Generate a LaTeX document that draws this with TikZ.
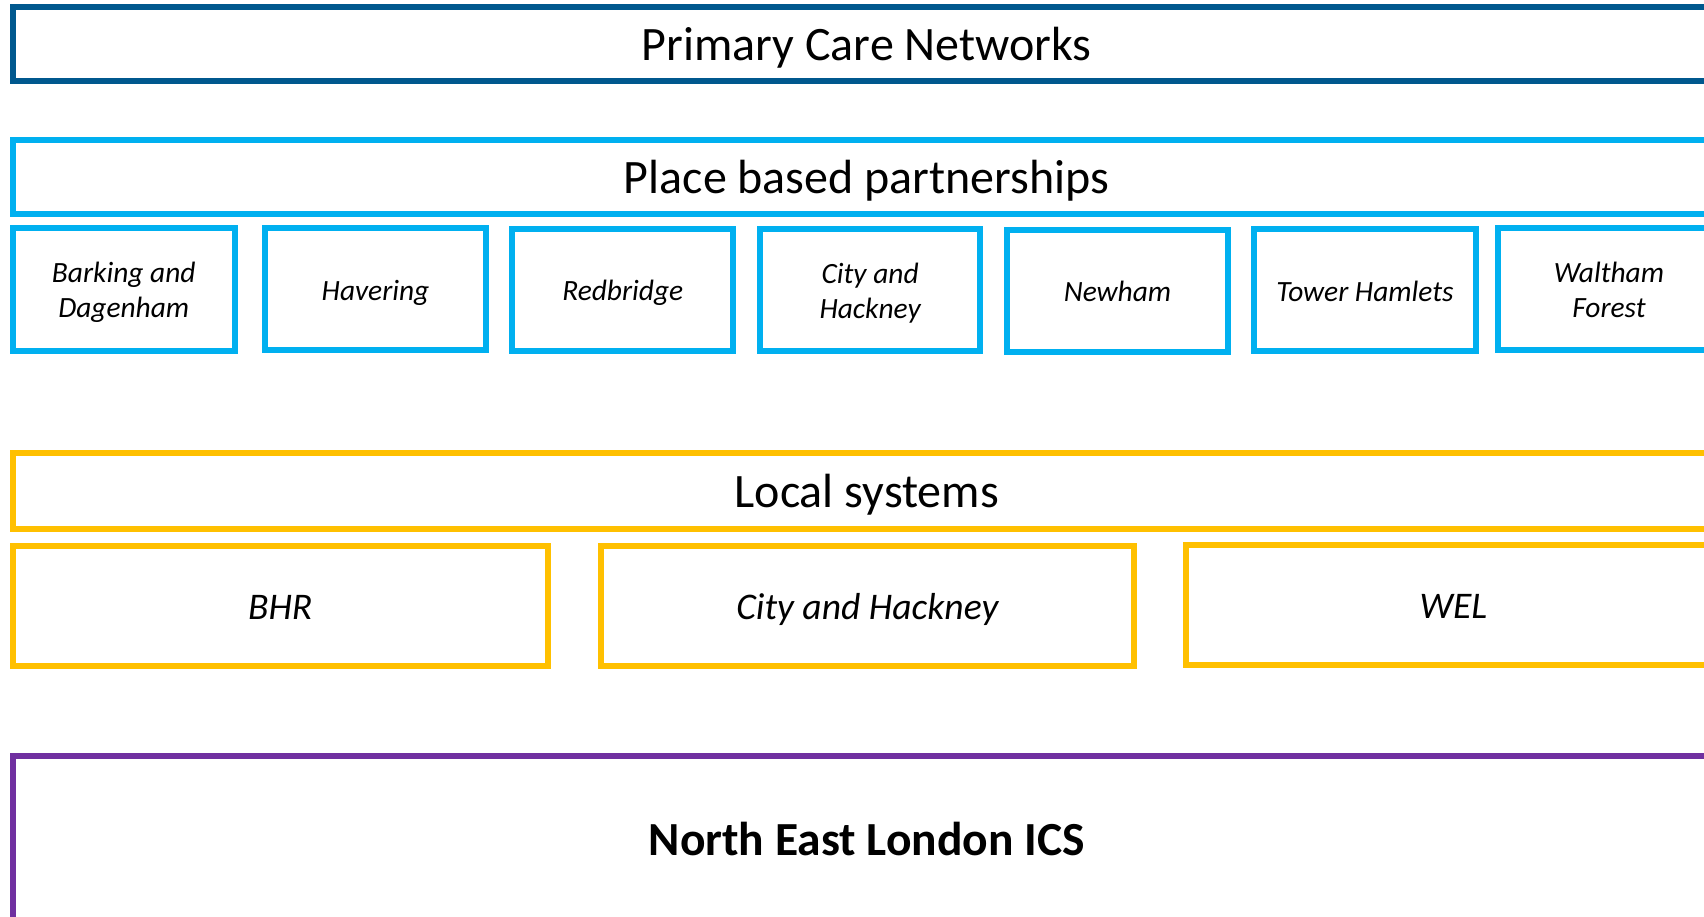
\documentclass[tikz,border=0pt]{standalone}
\usepackage{fontspec}
\setmainfont{Carlito}
\definecolor{pcnblue}{RGB}{0,88,142}
\definecolor{placecyan}{RGB}{0,176,240}
\definecolor{lsyellow}{RGB}{255,192,0}
\definecolor{icspurple}{RGB}{112,48,160}
\begin{document}
\begin{tikzpicture}[x=1pt,y=-1pt,
  layer/.style={draw, line width=6pt, rectangle, inner sep=0pt, outer sep=0pt, align=center},
  bigbar/.style={layer, minimum width=1707.4pt},
  titletext/.style={font=\fontsize{48}{58}\selectfont, text height=34pt, text depth=0pt},
  placebox/.style={layer, draw=placecyan, font=\fontsize{29.4}{35}\selectfont\itshape, text height=21.5pt, text depth=0pt},
  placeboxtwo/.style={placebox, text height=56.5pt},
  lsbox/.style={layer, draw=lsyellow, minimum height=120pt, font=\fontsize{37.6}{45}\selectfont\itshape, text height=27pt, text depth=0pt}]
\useasboundingbox (0,0) rectangle (1704,917);
\clip (0,0) rectangle (1704,917);
\fill[white] (0,0) rectangle (1704,917);

% Primary Care Networks
\node[bigbar, draw=pcnblue, minimum height=74pt, titletext] (pcn) at (866.7,44) {Primary Care Networks};

% Place based partnerships
\node[bigbar, draw=placecyan, minimum height=74pt, titletext] (place) at (866.7,177) {Place based partnerships};
\node[placeboxtwo, minimum width=221.5pt, minimum height=122pt] (bd) at (123.75,289.5) {Barking and\\Dagenham};
\node[placebox, minimum width=221pt, minimum height=121.5pt] (hav) at (375.5,289.25) {Havering};
\node[placebox, minimum width=221.1pt, minimum height=121pt] (red) at (622.75,290) {Redbridge};
\node[placeboxtwo, minimum width=220.6pt, minimum height=121.5pt] (chp) at (870.1,290.25) {City and\\Hackney};
\node[placebox, minimum width=221.6pt, minimum height=122pt] (new) at (1117.5,291) {Newham};
\node[placebox, minimum width=222pt, minimum height=121.5pt] (th) at (1365,290.25) {Tower Hamlets};
\node[placeboxtwo, minimum width=222pt, minimum height=121pt] (wf) at (1609,289) {Waltham\\Forest};

% Local systems
\node[bigbar, draw=lsyellow, minimum height=76.5pt, titletext] (ls) at (866.7,490.75) {Local systems};
\node[lsbox, minimum width=534.5pt] (bhr) at (280.25,606.2) {BHR};
\node[lsbox, minimum width=533.1pt] (chl) at (867.35,606.2) {City and Hackney};
\node[lsbox, minimum width=534.7pt] (wel) at (1453.45,604.75) {WEL};

% North East London ICS
\node[bigbar, draw=icspurple, minimum height=166.3pt, font=\fontsize{47.5}{57}\selectfont\bfseries, text height=34pt, text depth=0pt] (ics) at (866.7,838.85) {North East London ICS};
\end{tikzpicture}
\end{document}
